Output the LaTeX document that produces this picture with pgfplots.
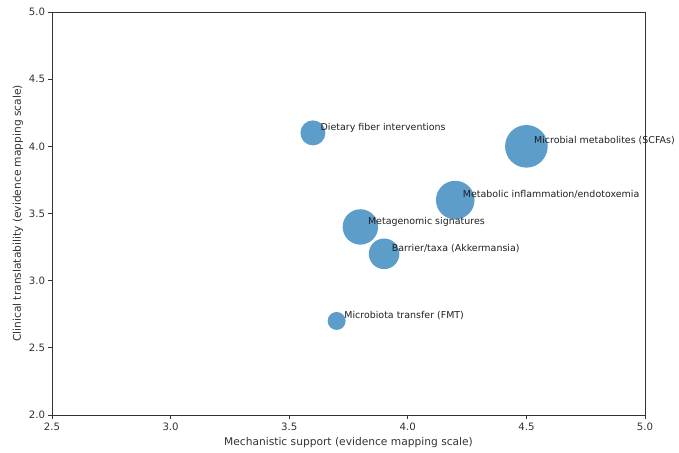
\documentclass[border=0pt]{standalone}
\usepackage{pgfplots}
\pgfplotsset{compat=1.18}
\usepackage{fontspec}
\setmainfont{DejaVu Sans}
\definecolor{tabblue}{HTML}{1F77B4}
\definecolor{axgray}{HTML}{333333}

\pgfplotsset{
  bubble/.style={
    only marks, mark=*, color=tabblue,
    mark size=#1bp,
    mark options={fill=tabblue, fill opacity=0.72, draw opacity=0},
    point meta=explicit symbolic,
    nodes near coords,
    nodes near coords style={anchor=base west, xshift=7.5bp, yshift=2.4bp,
      font=\fontsize{9.5}{11}\selectfont, text=black!88,
      text opacity=1, fill opacity=1, inner sep=0pt},
  },
}

\begin{document}
\begin{tikzpicture}
\begin{axis}[
  at={(0,0)}, anchor=south west,
  scale only axis,
  width=593bp, height=403bp,
  xmin=2.5, xmax=5.0, ymin=2.0, ymax=5.0,
  xtick={2.5,3.0,...,5.0}, ytick={2.0,2.5,...,5.0},
  xticklabel style={yshift=-1pt, /pgf/number format/.cd, fixed, fixed zerofill, precision=1},
  yticklabel style={/pgf/number format/.cd, fixed, fixed zerofill, precision=1},
  /pgf/number format/assume math mode=true,
  tick label style={font=\fontsize{10.2}{12}\selectfont, text=axgray},
  label style={font=\fontsize{10.7}{12}\selectfont, text=axgray},
  xlabel={Mechanistic support (evidence mapping scale)},
  ylabel={Clinical translatability (evidence mapping scale)},
  xlabel style={yshift=0pt},
  ylabel style={yshift=-1pt},
  axis line style={axgray, line width=0.8pt},
  tick style={axgray, line width=0.8pt},
  tick align=outside, tick pos=left,
  major tick length=3.5bp,
  clip=false,
]
% bubble radius reflects the weight of evidence for each area
\addplot[bubble=12.5] coordinates {(3.6,4.1) [Dietary fiber interventions]};
\addplot[bubble=21.3] coordinates {(4.5,4.0) [Microbial metabolites (SCFAs)]};
\addplot[bubble=19.3] coordinates {(4.2,3.6) [Metabolic inflammation/endotoxemia]};
\addplot[bubble=17.7] coordinates {(3.8,3.4) [Metagenomic signatures]};
\addplot[bubble=15.3] coordinates {(3.9,3.2) [Barrier/taxa (Akkermansia)]};
\addplot[bubble=9.0]  coordinates {(3.7,2.7) [Microbiota transfer (FMT)]};
\end{axis}
\pgfresetboundingbox
\path[use as bounding box] (-52bp,-38bp) rectangle (627bp,415bp);
\end{tikzpicture}
\end{document}
